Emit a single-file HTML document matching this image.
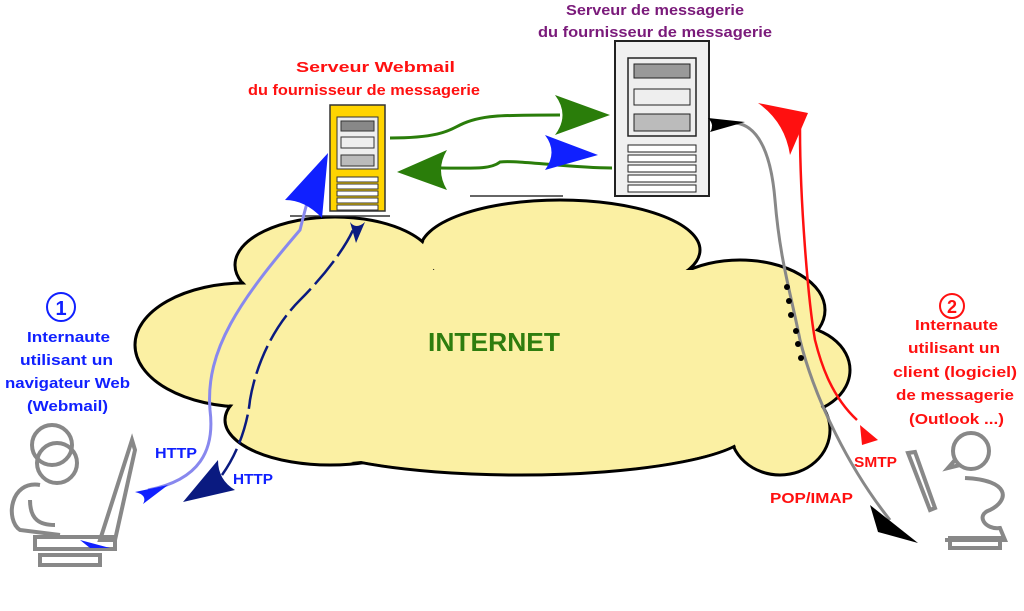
<!DOCTYPE html>
<html><head><meta charset="utf-8"><style>
body{margin:0;background:#fff;}
svg{display:block}
text{font-family:"Liberation Sans",sans-serif;font-weight:bold;}
</style></head><body>
<svg width="1024" height="611" viewBox="0 0 1024 611" xmlns="http://www.w3.org/2000/svg">
<g stroke="#000" stroke-width="3" fill="#fbf0a3">
<ellipse cx="560" cy="250" rx="140" ry="50"/>
<ellipse cx="335" cy="265" rx="100" ry="48"/>
<ellipse cx="245" cy="345" rx="110" ry="62"/>
<ellipse cx="740" cy="310" rx="85" ry="50"/>
<ellipse cx="790" cy="370" rx="60" ry="45"/>
<ellipse cx="780" cy="430" rx="50" ry="45"/>
<ellipse cx="330" cy="420" rx="105" ry="45"/>
<ellipse cx="520" cy="430" rx="230" ry="45"/>
</g>
<g fill="#fbf0a3">
<ellipse cx="560" cy="250" rx="138" ry="48"/>
<ellipse cx="335" cy="265" rx="98" ry="46"/>
<ellipse cx="245" cy="345" rx="108" ry="60"/>
<ellipse cx="740" cy="310" rx="83" ry="48"/>
<ellipse cx="790" cy="370" rx="58" ry="43"/>
<ellipse cx="780" cy="430" rx="48" ry="43"/>
<ellipse cx="330" cy="420" rx="103" ry="43"/>
<ellipse cx="520" cy="430" rx="228" ry="43"/>
<rect x="260" y="270" width="520" height="170"/>
</g>
<text x="428" y="351" font-size="26" fill="#2e7d0e" textLength="132" lengthAdjust="spacingAndGlyphs">INTERNET</text>

<rect x="330" y="105" width="55" height="106" fill="#ffd400" stroke="#333" stroke-width="1.5"/>
<rect x="337" y="117" width="41" height="52" fill="#eee" stroke="#333"/>
<rect x="341" y="121" width="33" height="10" fill="#888" stroke="#333"/>
<rect x="341" y="137" width="33" height="11" fill="#eee" stroke="#333"/>
<rect x="341" y="155" width="33" height="11" fill="#bbb" stroke="#333"/>
<g fill="#fff" stroke="#333"><rect x="337" y="177" width="41" height="5"/><rect x="337" y="184" width="41" height="5"/><rect x="337" y="191" width="41" height="5"/><rect x="337" y="198" width="41" height="5"/><rect x="337" y="205" width="41" height="5"/></g>
<rect x="615" y="41" width="94" height="155" fill="#f0f0f0" stroke="#222" stroke-width="2"/>
<rect x="628" y="58" width="68" height="78" fill="#eee" stroke="#222" stroke-width="1.5"/>
<rect x="634" y="64" width="56" height="14" fill="#999" stroke="#222"/>
<rect x="634" y="89" width="56" height="16" fill="#eee" stroke="#222"/>
<rect x="634" y="114" width="56" height="17" fill="#bbb" stroke="#222"/>
<g fill="#fff" stroke="#222"><rect x="628" y="145" width="68" height="7"/><rect x="628" y="155" width="68" height="7"/><rect x="628" y="165" width="68" height="7"/><rect x="628" y="175" width="68" height="7"/><rect x="628" y="185" width="68" height="7"/></g>
<line x1="470" y1="196" x2="563" y2="196" stroke="#333" stroke-width="1.5"/>
<line x1="290" y1="216" x2="390" y2="216" stroke="#333" stroke-width="1.5"/>

<path d="M390 138 C440 138 450 130 460 125 C480 115 500 115 560 115" stroke="#2a7d0a" stroke-width="3" fill="none"/>
<path d="M555 95 L610 115 L555 135 Q570 115 555 95Z" fill="#2a7d0a"/>
<path d="M612 168 C570 168 520 160 500 162 C490 170 470 168 440 168" stroke="#2a7d0a" stroke-width="3" fill="none"/>
<path d="M545 135 L598 155 L545 170 Q558 152 545 135Z" fill="#1020ff"/>
<path d="M447 150 L397 172 L447 190 Q435 170 447 150Z" fill="#2a7d0a"/>

<path d="M148 490 C200 480 215 450 210 410 C205 350 240 300 300 230 C305 210 310 190 315 180" stroke="#8888ee" stroke-width="3" fill="none"/>
<path d="M285 200 L328 153 L322 218 Q305 200 285 200Z" fill="#1020ff"/>
<path d="M135 492 L168 485 L143 504 Q148 495 135 492Z" fill="#1020ff"/>
<path d="M222 475 C240 450 248 420 250 400 C255 370 270 330 300 300 C330 270 350 240 355 225" stroke="#0a1a80" stroke-width="2.5" fill="none" stroke-dasharray="30 6"/>
<path d="M183 502 L218 460 Q218 480 235 490Z" fill="#0a1a80"/>
<path d="M350 222 L356 243 L365 222 Q356 230 350 222Z" fill="#0a1a80"/>
<text x="155" y="458" font-size="15" fill="#1020ff" textLength="42" lengthAdjust="spacingAndGlyphs">HTTP</text>
<text x="233" y="484" font-size="15" fill="#1020ff" textLength="40" lengthAdjust="spacingAndGlyphs">HTTP</text>

<path d="M712 128 C750 110 770 140 775 200 C780 260 790 290 800 340 C815 400 850 470 890 520" stroke="#888" stroke-width="3" fill="none"/>
<path d="M708 118 L745 122 L710 132 Q715 125 708 118Z" fill="#000"/>
<path d="M870 505 L918 543 L878 532Z" fill="#000"/>
<g fill="#000"><circle cx="787" cy="287" r="3"/><circle cx="789" cy="301" r="3"/><circle cx="791" cy="315" r="3"/><circle cx="796" cy="331" r="3"/><circle cx="798" cy="344" r="3"/><circle cx="801" cy="358" r="3"/></g>
<path d="M857 420 C830 395 820 360 815 340 C808 300 800 200 800 130 C800 120 790 115 785 115" stroke="#ff1010" stroke-width="2.5" fill="none"/>
<path d="M758 103 L808 113 L790 155 Q785 122 758 103Z" fill="#ff1010"/>
<path d="M860 425 L862 445 L878 440Z" fill="#ff1010"/>
<text x="854" y="467" font-size="15" fill="#ff1010" textLength="43" lengthAdjust="spacingAndGlyphs">SMTP</text>
<text x="770" y="503" font-size="15" fill="#ff1010" textLength="83" lengthAdjust="spacingAndGlyphs">POP/IMAP</text>

<g font-size="15" fill="#7a1a7a">
<text x="566" y="15" textLength="178" lengthAdjust="spacingAndGlyphs">Serveur de messagerie</text>
<text x="538" y="37" textLength="234" lengthAdjust="spacingAndGlyphs">du fournisseur de messagerie</text></g>
<g font-size="15" fill="#ff1010">
<text x="296" y="72" textLength="159" lengthAdjust="spacingAndGlyphs">Serveur Webmail</text>
<text x="248" y="95" textLength="232" lengthAdjust="spacingAndGlyphs">du fournisseur de messagerie</text></g>
<circle cx="61" cy="307" r="14" fill="none" stroke="#1020ff" stroke-width="2"/>
<text x="61" y="315" font-size="20" fill="#1020ff" text-anchor="middle">1</text>
<g font-size="15" fill="#1020ff">
<text x="27" y="342" textLength="83" lengthAdjust="spacingAndGlyphs">Internaute</text>
<text x="20" y="365" textLength="93" lengthAdjust="spacingAndGlyphs">utilisant un</text>
<text x="5" y="388" textLength="125" lengthAdjust="spacingAndGlyphs">navigateur Web</text>
<text x="27" y="411" textLength="81" lengthAdjust="spacingAndGlyphs">(Webmail)</text></g>
<circle cx="952" cy="306" r="12" fill="none" stroke="#ff1010" stroke-width="2"/>
<text x="952" y="313" font-size="18" fill="#ff1010" text-anchor="middle">2</text>
<g font-size="15" fill="#ff1010">
<text x="915" y="330" textLength="83" lengthAdjust="spacingAndGlyphs">Internaute</text>
<text x="908" y="353" textLength="92" lengthAdjust="spacingAndGlyphs">utilisant un</text>
<text x="893" y="377" textLength="124" lengthAdjust="spacingAndGlyphs">client (logiciel)</text>
<text x="896" y="400" textLength="118" lengthAdjust="spacingAndGlyphs">de messagerie</text>
<text x="909" y="424" textLength="95" lengthAdjust="spacingAndGlyphs">(Outlook ...)</text></g>

<g stroke="#888" stroke-width="4" fill="none">
<circle cx="52" cy="445" r="20"/><circle cx="57" cy="463" r="20"/>
<path d="M40 485 C10 480 5 520 20 530 L60 535"/>
<path d="M30 500 C30 520 40 525 55 525"/>
<path d="M132 440 L100 540 L115 540 L135 450Z"/>
<rect x="35" y="537" width="80" height="12"/>
<rect x="40" y="555" width="60" height="10"/>
</g>
<path d="M80 540 L110 548 L90 548Z" fill="#1020ff"/>
<g stroke="#888" stroke-width="4" fill="none">
<circle cx="971" cy="451" r="18"/>
<path d="M955 460 L948 468 L960 465"/>
<path d="M965 478 C1010 480 1010 500 990 510 C975 515 985 530 1000 528 L1005 540 L945 540"/>
<path d="M908 453 L930 510 L935 508 L915 452Z"/>
<rect x="950" y="538" width="50" height="10"/>
</g>
</svg>
</body></html>
